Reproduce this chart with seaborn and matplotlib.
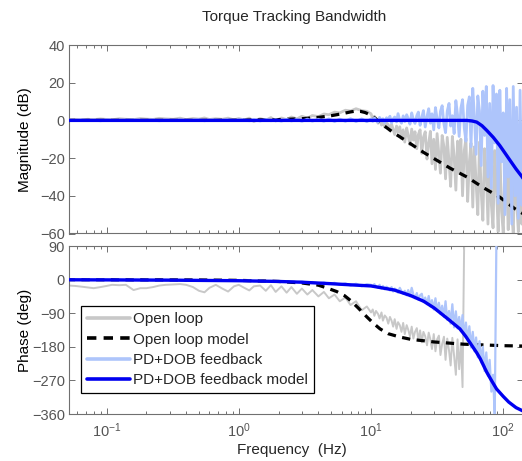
import numpy as np
import pandas as pd
import matplotlib.pyplot as plt
import matplotlib.ticker as mticker
import seaborn as sns

# measured frequency points (Hz)
freq_low = [0.052, 0.058, 0.065, 0.072, 0.08, 0.09, 0.1, 0.11, 0.125, 0.14,
            0.16, 0.18, 0.2, 0.225, 0.25, 0.28, 0.32, 0.36, 0.4, 0.45,
            0.5, 0.55, 0.6, 0.67, 0.75, 0.83, 0.92, 1.0]
freq_mid = [1.1, 1.2, 1.3, 1.45, 1.6, 1.75, 1.9, 2.1, 2.3, 2.5,
            2.75, 3.0, 3.3, 3.6, 4.0, 4.4, 4.8, 5.3, 5.8, 6.4,
            7.0, 7.7, 8.5, 9.3]
freq_high = [10, 10.3, 10.6, 10.9, 11.3, 11.6, 12, 12.3, 12.7, 13.1,
             13.5, 13.9, 14.3, 14.7, 15.1, 15.6, 16, 16.5, 17, 17.5,
             18, 18.6, 19.1, 19.7, 20.3, 20.9, 21.5, 22.2, 22.8, 23.5,
             24.2, 24.9, 25.7, 26.5, 27.3, 28.1, 28.9, 29.8, 30.7, 31.6,
             32.6, 33.5, 34.5, 35.6, 36.6, 37.7, 38.9, 40, 41.2, 42.5,
             43.8, 45.1, 46.4, 47.8, 49.2, 50.7, 52.2, 53.8, 55.4, 57,
             58.8, 60.5, 62.3, 64.2, 66.1, 68.1, 70.1, 72.2, 74.4, 76.6,
             78.9, 81.3, 83.7, 86.2, 88.8, 91.5, 94.2, 97, 100, 103,
             106, 109, 112, 116, 119, 123, 126, 130, 134, 138,
             142]
freq_meas = freq_low + freq_mid + freq_high

nan = np.nan

# open loop, measured magnitude (dB)
ol_mag = [0.3, 0.5, 0.2, 0.6, 0.4, 0.8, 0.5, 0.3, 0.9, 0.6,
          0.4, 1.0, 0.7, 0.5, 1.1, 0.8, 0.6, 1.2, 0.4, 1.0,
          0.7, 1.3, 0.5, 0.9, 0.6, 1.2, 0.3, 1.0,
          0.2, 1.2, -0.6, 1.0, 0.1, 1.5, -0.3, 1.3, 0.4, 1.8,
          0.8, 2.2, 1.2, 2.6, 2.0, 3.4, 3.0, 4.4, 4.0, 5.4,
          5.0, 6.2, 5.2, 4.8,
          3.5, 0.8, 2.2, 1.0, -1.5, 1.2, -2.5, -0.5, -3.6, -1.4,
          -2.2, -5.6, -2.0, -4.8, -7.5, -3.0, -6.2, -3.4, -9.6, -5.0,
          -11.5, -4.0, -8.0, -13.0, -4.6, -10.5, -6.0, -15.0, -7.5, -5.0,
          -17.5, -9.0, -6.0, -20.5, -12.0, -5.8, -23.0, -10.0, -26.0, -7.0,
          -18.0, -28.0, -8.0, -14.0, -31.0, -9.0, -22.0, -35.0, -8.5, -19.0,
          -37.0, -11.0, -28.0, -10.0, -40.0, -16.0, -9.5, -43.0, -22.0, -12.0,
          -46.0, -14.0, -33.0, -50.0, -11.5, -38.0, -53.0, -15.0, -27.0, -55.0,
          -13.0, -45.0, -57.0, -16.0, -35.0, -59.0, -14.5, -48.0, -60.0, -18.0,
          -31.0, -58.0, -17.0, -50.0, -60.0, -20.0, -42.0, -59.0, -19.0, -55.0,
          -22.0]

# PD+DOB feedback, measured magnitude (dB)
cl_mag = [0.1, -0.1, 0.2, 0.0, 0.1, -0.2, 0.2, 0.0, -0.1, 0.1,
          0.2, -0.1, 0.0, 0.2, -0.2, 0.1, 0.0, 0.2, -0.1, 0.1,
          0.3, -0.2, 0.1, 0.2, -0.1, 0.3, 0.0, 0.2,
          0.3, -0.2, 0.4, -0.3, 0.5, -0.2, 0.4, -0.4, 0.6, -0.3,
          0.5, -0.5, 0.7, -0.4, 0.6, -0.5, 0.8, -0.6, 0.7, -0.5,
          0.9, -0.6, 0.8, -0.7,
          0.8, -0.5, 1.3, 0.2, -1.0, 1.6, -0.3, 0.9, -1.2, 1.4,
          0.3, 2.2, -1.3, 0.8, 1.8, -0.8, 3.6, 0.2, -1.5, 2.4,
          -0.6, 3.0, 1.0, -2.0, 4.0, 0.5, -1.6, 2.6, 4.4, -2.6,
          1.5, 5.2, -3.5, 2.0, 6.2, -1.5, 3.5, -5.0, 6.8, 1.0,
          -4.0, 4.8, 7.8, -2.0, -6.5, 5.0, 9.0, -3.0, 2.5, -7.0,
          10.5, 3.0, -8.5, 6.5, 11.0, -4.0, -11.0, 8.0, 12.5, -14.0,
          17.0, 2.0, -18.0, 13.0, 5.0, -24.0, 15.5, -8.0, 18.0, -30.0,
          9.0, -36.0, 18.5, -12.0, 14.0, -44.0, 16.0, -22.0, 4.0, -50.0,
          17.0, -30.0, 11.0, -55.0, 18.0, -40.0, 7.0, -52.0, 16.0, -45.0,
          12.0]

# open loop, measured phase (deg)
ol_phase = [-16, -17, -19, -21, -23, -20, -17, -14, -15, -14,
            -28, -23, -23, -20, -16, -14, -13, -12, -14, -20,
            -30, -34, -22, -14, -24, -32, -18, -14,
            -22, -29, -18, -16, -30, -15, -33, -18, -35, -20,
            -38, -24, -40, -28, -45, -33, -50, -40, -58, -48,
            -68, -58, -82, -72,
            -88, -80, -97, -84, -92, -104, -88, -110, -96, -102,
            -118, -100, -110, -126, -106, -132, -114, -122, -140, -116,
            -146, -122, -134, -152, -126, -158, -140, -130, -164, -136,
            -168, -140, -152, -176, -142, -160, -186, -146, -192, -160,
            -150, -202, -172, -153, -215, -158, -190, -230, -156, -205,
            -255, -160, -240, -170, -288, 120, nan, nan, nan, nan,
            nan, nan, nan, nan, nan, nan, nan, nan, nan, nan,
            nan, nan, nan, nan, nan, nan, nan, nan, nan, nan,
            nan, nan, nan, nan, nan, nan, nan, nan, nan, nan,
            nan]

# PD+DOB feedback, measured phase (deg)
cl_phase = [-0.5, 0.3, -0.6, 0.2, -0.8, 0.0, -0.5, -0.9, 0.0, -1.0,
            -0.4, -1.2, -0.6, -0.9, -1.5, -0.7, -1.3, -1.0, -1.8, -1.2,
            -1.5, -2.2, -1.6, -2.0, -2.8, -2.2, -2.5, -3.2,
            -3.5, -2.5, -4.2, -3.0, -4.8, -3.6, -5.2, -4.0, -6.0, -4.6,
            -7.0, -5.2, -8.0, -6.5, -10.0, -7.5, -12.0, -8.5, -14.0, -10.0,
            -16.0, -11.0, -18.0, -12.0,
            -14, -19, -12, -18, -22, -14, -24, -17, -26, -19,
            -23, -29, -20, -32, -24, -27, -35, -22, -31, -38,
            -30, -42, -28, -45, -22, -40, -50, -36, -54, -42,
            -38, -60, -48, -66, -44, -72, -55, -80, -50, -84,
            -62, -92, -70, -100, -58, -108, -84, -118, -66, -128,
            -85, -131, -100, -138, -95, -152, -115, -165, -125, -182,
            -140, -192, -155, -208, -165, -222, -180, -245, -195, -258,
            -215, -300, -255, -365, 120, nan, nan, nan, nan, nan,
            nan, nan, nan, nan, nan, nan, nan, nan, nan, nan,
            nan]

# models
ol_mag_model_f = [0.05, 0.5, 1, 2, 3, 4, 5, 6, 7, 7.6, 8.3, 9, 10, 11, 12, 13.5,
                  15, 16.6, 20, 25, 30, 40, 53, 70, 94, 122, 145]
ol_mag_model = [0, 0, 0.1, 0.4, 0.9, 1.6, 2.5, 3.5, 4.5, 4.9, 4.8, 4.2, 2.8, 0.5,
                -1.8, -4.5, -6.8, -8.8, -12.5, -17, -20.3, -25.5, -30, -35.5,
                -40.7, -46.8, -50]
ol_ph_model_f = [0.05, 0.5, 1, 2, 3, 4, 4.6, 5.5, 6.3, 7, 8, 9.3, 10.5, 11.7,
                 13.5, 16.6, 20, 30, 50, 100, 145]
ol_ph_model = [0, -1, -2, -5, -9, -15, -22, -32, -43, -56, -76, -100, -118, -132,
               -145, -154, -160, -167, -173, -177, -178]
cl_mag_model_f = [0.05, 10, 45, 53, 58, 63, 69, 75, 84, 94, 103, 112, 125, 139, 145]
cl_mag_model = [0, 0, 0, 0, -0.3, -0.9, -2.8, -5.3, -9, -13.3, -17.3, -21, -25.8, -30, -32]
cl_ph_model_f = [0.05, 0.1, 0.3, 1, 2, 3, 5, 7, 10, 15, 20, 25, 30, 38, 47, 52, 58,
                 63, 67, 75, 82, 89, 100, 110, 125, 141, 145]
cl_ph_model = [-0.5, -0.8, -1.5, -3, -5, -7, -11, -14, -17, -28, -43, -58, -76, -105,
               -132, -152, -177, -196, -212, -248, -272, -293, -313, -328, -343, -352, -354]

labels = ['Open loop', 'Open loop model', 'PD+DOB feedback', 'PD+DOB feedback model']
c_gray = '#c8c8c8'
c_light = '#aec5fb'
c_blue = '#0000f0'

sns.set_theme(style='ticks')
plt.rcParams['font.family'] = ['Liberation Sans', 'DejaVu Sans']
plt.rcParams['mathtext.fontset'] = 'custom'
plt.rcParams['mathtext.rm'] = 'Liberation Sans'
plt.rcParams['mathtext.it'] = 'Liberation Sans:italic'

meas = pd.DataFrame({'freq': freq_meas, 'ol_mag': ol_mag, 'cl_mag': cl_mag,
                     'ol_phase': ol_phase, 'cl_phase': cl_phase})

fig = plt.figure(figsize=(5.22, 4.61), dpi=100)
W, H = 522, 461
ax1 = fig.add_axes([69 / W, 1 - 233.5 / H, 454 / W, 188.5 / H])
ax2 = fig.add_axes([69 / W, 1 - 414 / H, 454 / W, 168 / H])

for ax in (ax1, ax2):
    ax.set_xscale('log')

kw = dict(estimator=None, sort=False, legend=False)
sns.lineplot(data=meas, x='freq', y='ol_mag', ax=ax1, color=c_gray, lw=2.0, zorder=1, **kw)
sns.lineplot(x=ol_mag_model_f, y=ol_mag_model, ax=ax1, color='black', lw=2.3, zorder=2, **kw)
sns.lineplot(data=meas, x='freq', y='cl_mag', ax=ax1, color=c_light, lw=2.0, zorder=3, **kw)
sns.lineplot(x=cl_mag_model_f, y=cl_mag_model, ax=ax1, color=c_blue, lw=2.4, zorder=4, **kw)

sns.lineplot(data=meas, x='freq', y='ol_phase', ax=ax2, color=c_gray, lw=1.4, zorder=1, **kw)
sns.lineplot(x=ol_ph_model_f, y=ol_ph_model, ax=ax2, color='black', lw=2.3, zorder=2, **kw)
sns.lineplot(data=meas, x='freq', y='cl_phase', ax=ax2, color=c_light, lw=1.6, zorder=3, **kw)
sns.lineplot(x=cl_ph_model_f, y=cl_ph_model, ax=ax2, color=c_blue, lw=2.4, zorder=4, **kw)

ax1.lines[1].set_dashes((2.6, 2.0))
ax2.lines[1].set_dashes((2.6, 2.0))

for ax in (ax1, ax2):
    ax.set_xlim(0.052, 141)
    ax.set_xlabel('')
    ax.set_ylabel('')
    for s in ax.spines.values():
        s.set_color('#707070')
        s.set_linewidth(0.8)
    ax.tick_params(which='both', direction='in', top=True, right=True,
                   color='#707070', labelcolor='#555555', labelsize=10.5, width=0.7)
    ax.tick_params(which='major', length=4, pad=3)
    ax.tick_params(which='minor', length=2)
    ax.xaxis.set_minor_formatter(mticker.NullFormatter())

ax1.set_ylim(-60, 40)
ax1.set_yticks([-60, -40, -20, 0, 20, 40])
ax1.tick_params(axis='x', labelbottom=False)
ax2.set_ylim(-360, 90)
ax2.set_yticks([-360, -270, -180, -90, 0, 90])
ax2.set_xticks([0.1, 1, 10, 100])
ax2.tick_params(axis='x', which='major', pad=5)

ax1.set_ylabel('Magnitude (dB)', fontsize=11, color='black')
ax2.set_ylabel('Phase (deg)', fontsize=11, color='black')
ax1.yaxis.set_label_coords(-0.081, 0.5)
ax2.yaxis.set_label_coords(-0.081, 0.5)

fig.text(294 / W, 1 - 17 / H, 'Torque Tracking Bandwidth', ha='center', va='center', fontsize=11)
fig.text(292 / W, 1 - 450 / H, 'Frequency  (Hz)', ha='center', va='center', fontsize=11)

handles = [ax2.lines[0], ax2.lines[1], ax2.lines[2], ax2.lines[3]]
leg = ax2.legend(handles, labels, loc='upper left', bbox_to_anchor=(0.026, 0.643),
                 borderaxespad=0, fancybox=False, framealpha=1, edgecolor='black',
                 fontsize=11, handlelength=2.8, handletextpad=0.2, labelspacing=0.42,
                 borderpad=0.4)
leg.get_frame().set_linewidth(0.9)
for ln in leg.get_lines():
    ln.set_linewidth(2.6)

fig.savefig('out.png', dpi=100)
